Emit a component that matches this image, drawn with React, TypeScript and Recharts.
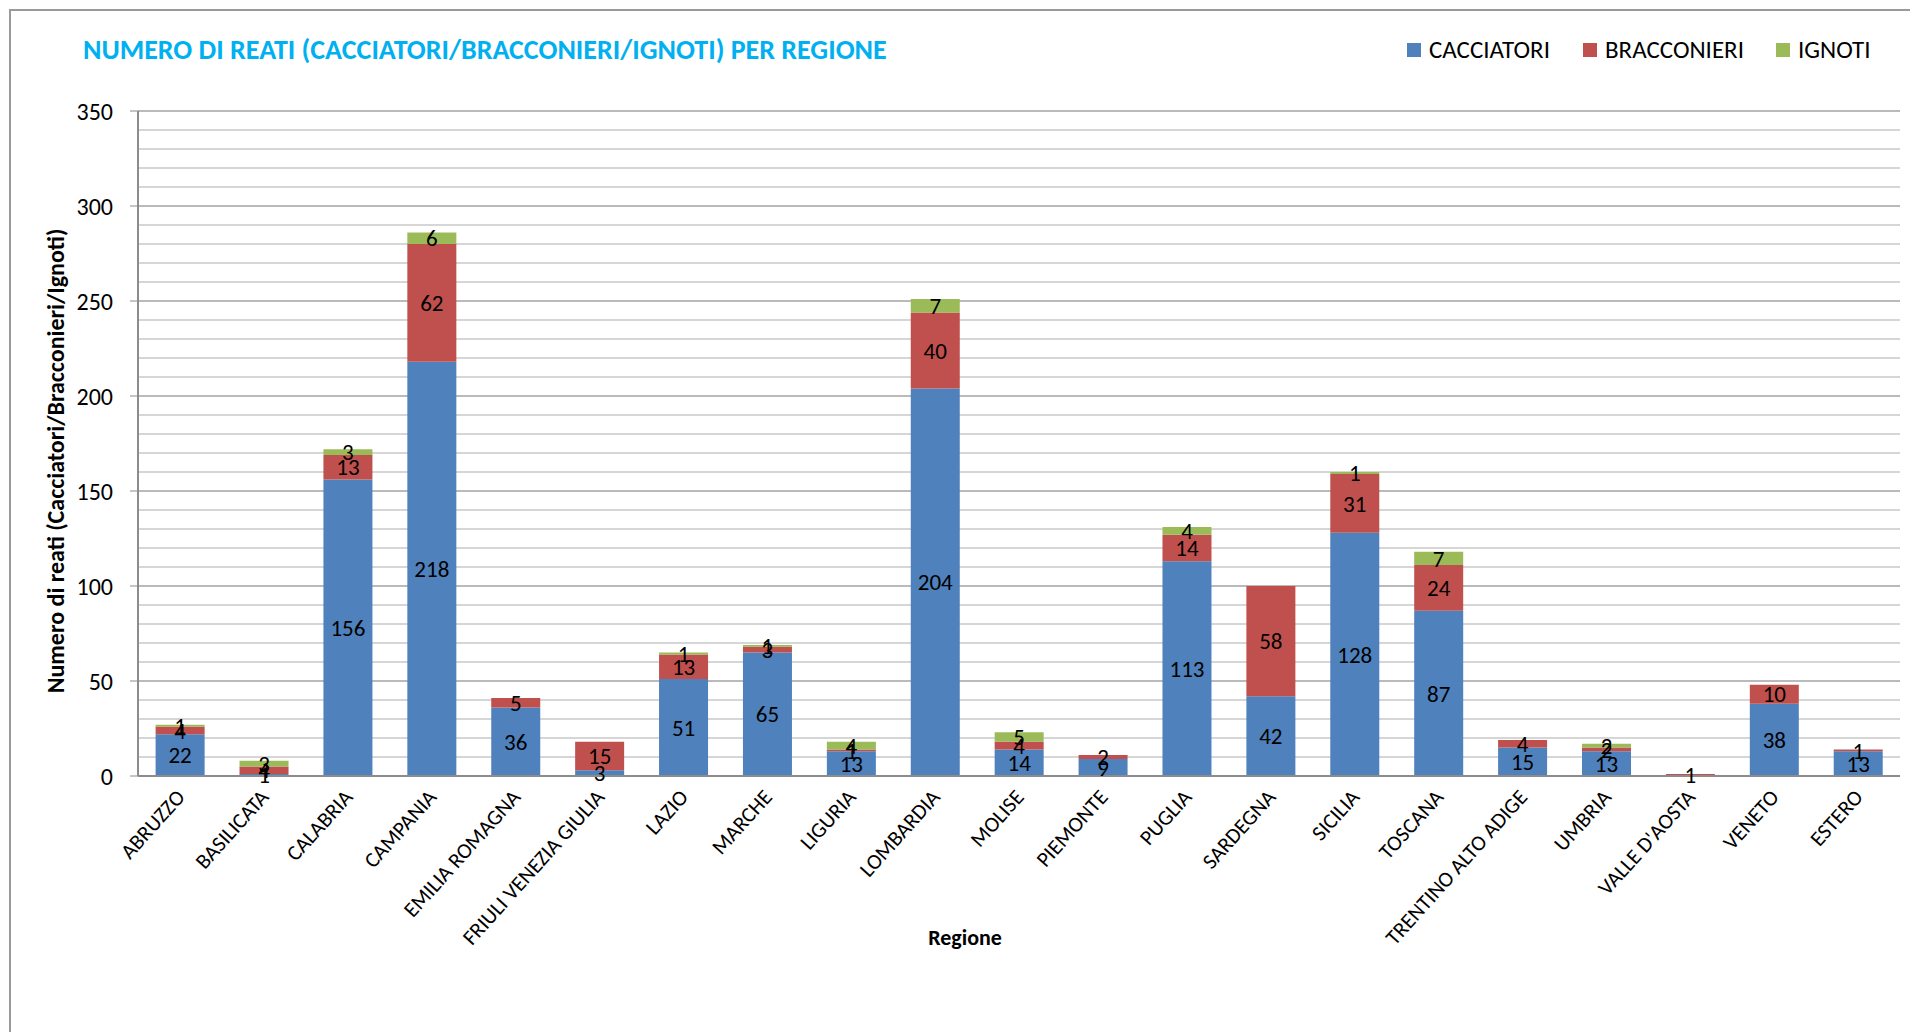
import React from 'react';
import { BarChart, Bar, XAxis, YAxis, CartesianGrid, LabelList } from 'recharts';

const regions = [
  'ABRUZZO', 'BASILICATA', 'CALABRIA', 'CAMPANIA', 'EMILIA ROMAGNA', 'FRIULI VENEZIA GIULIA',
  'LAZIO', 'MARCHE', 'LIGURIA', 'LOMBARDIA', 'MOLISE', 'PIEMONTE', 'PUGLIA', 'SARDEGNA',
  'SICILIA', 'TOSCANA', 'TRENTINO ALTO ADIGE', 'UMBRIA', "VALLE D'AOSTA", 'VENETO', 'ESTERO',
];
const cacciatori = [22, 1, 156, 218, 36, 3, 51, 65, 13, 204, 14, 9, 113, 42, 128, 87, 15, 13, 0, 38, 13];
const bracconieri = [4, 4, 13, 62, 5, 15, 13, 3, 1, 40, 4, 2, 14, 58, 31, 24, 4, 2, 1, 10, 1];
const ignoti = [1, 3, 3, 6, 0, 0, 1, 1, 4, 7, 5, 0, 4, 0, 1, 7, 0, 2, 0, 0, 0];

const yTicks = [0, 50, 100, 150, 200, 250, 300, 350];
const minorTicks = [10, 20, 30, 40, 60, 70, 80, 90, 110, 120, 130, 140, 160, 170, 180, 190, 210, 220, 230, 240, 260, 270, 280, 290, 310, 320, 330, 340];

const title = 'NUMERO DI REATI (CACCIATORI/BRACCONIERI/IGNOTI) PER REGIONE';
const yTitle = 'Numero di reati (Cacciatori/Bracconieri/Ignoti)';
const xTitle = 'Regione';

const series = [
  { key: 'cacciatori', name: 'CACCIATORI', color: '#4F81BD' },
  { key: 'bracconieri', name: 'BRACCONIERI', color: '#C0504D' },
  { key: 'ignoti', name: 'IGNOTI', color: '#9BBB59' },
];

const data = regions.map((r, i) => ({
  region: r,
  cacciatori: cacciatori[i],
  bracconieri: bracconieri[i],
  ignoti: ignoti[i],
}));

const FONT = "Carlito, 'Liberation Sans Narrow', 'Open Sans', sans-serif";

const XTick = (props: any) => {
  const { x, y, payload } = props;
  return (
    <g transform={`translate(${x + 6},${y + 14}) rotate(-48)`}>
      <text x={0} y={0} textAnchor="end" fontSize={21.5} fill="#000" fontFamily={FONT}>
        {payload.value}
      </text>
    </g>
  );
};

const fmt = (v: any) => (v ? v : '');

export default function App() {
  const legendX = [1407, 1583, 1776];
  return (
    <div style={{ position: 'fixed', left: 0, top: 0, width: 1910, height: 1032, overflow: 'hidden', background: '#fff', fontFamily: FONT }}>
      <div style={{ position: 'absolute', left: 9, top: 9, width: 1920, height: 1040, borderTop: '2px solid #9a9a9a', borderLeft: '2px solid #9a9a9a' }} />
      <div style={{ position: 'absolute', left: 83, top: 32, fontSize: 28, fontWeight: 'bold', color: '#00B0F0', whiteSpace: 'nowrap' }}>{title}</div>
      {series.map((s, i) => (
        <div key={s.key} style={{ position: 'absolute', left: legendX[i], top: 34, display: 'flex', alignItems: 'center', whiteSpace: 'nowrap' }}>
          <div style={{ width: 14, height: 14, background: s.color, marginRight: 8 }} />
          <span style={{ fontSize: 25, color: '#000' }}>{s.name}</span>
        </div>
      ))}
      <div style={{ position: 'absolute', left: 55, top: 461, transform: 'translate(-50%,-50%) rotate(-90deg)', fontSize: 24, fontWeight: 'bold', whiteSpace: 'nowrap', color: '#000' }}>{yTitle}</div>
      <div style={{ position: 'absolute', left: 965, top: 937, transform: 'translate(-50%,-50%)', fontSize: 22, fontWeight: 'bold', whiteSpace: 'nowrap', color: '#000' }}>{xTitle}</div>
      <div style={{ position: 'absolute', left: 0, top: 0 }}>
        <BarChart width={1910} height={1032} data={data} margin={{ top: 111, right: 10, bottom: 0, left: 0 }} barCategoryGap="21%">
          <CartesianGrid vertical={false} horizontalValues={minorTicks} stroke="#c8c8c8" strokeWidth={1.5} />
          <CartesianGrid vertical={false} horizontalValues={yTicks} stroke="#a3a3a3" strokeWidth={1.5} />
          <XAxis dataKey="region" height={256} interval={0} tick={<XTick />} tickLine={false} axisLine={{ stroke: '#8c8c8c', strokeWidth: 2 }} />
          <YAxis width={138} domain={[0, 350]} ticks={yTicks} interval={0} tickSize={8} tickMargin={17}
            tick={{ fontSize: 24, fill: '#000', fontFamily: FONT }} tickLine={{ stroke: '#8c8c8c' }} axisLine={{ stroke: '#8c8c8c', strokeWidth: 2 }} />
          {series.map((s) => (
            <Bar key={s.key} dataKey={s.key} name={s.name} stackId="a" fill={s.color} isAnimationActive={false}>
              <LabelList dataKey={s.key} position="center" formatter={fmt} fill="#000" fontSize={23} fontFamily={FONT} />
            </Bar>
          ))}
        </BarChart>
      </div>
    </div>
  );
}
